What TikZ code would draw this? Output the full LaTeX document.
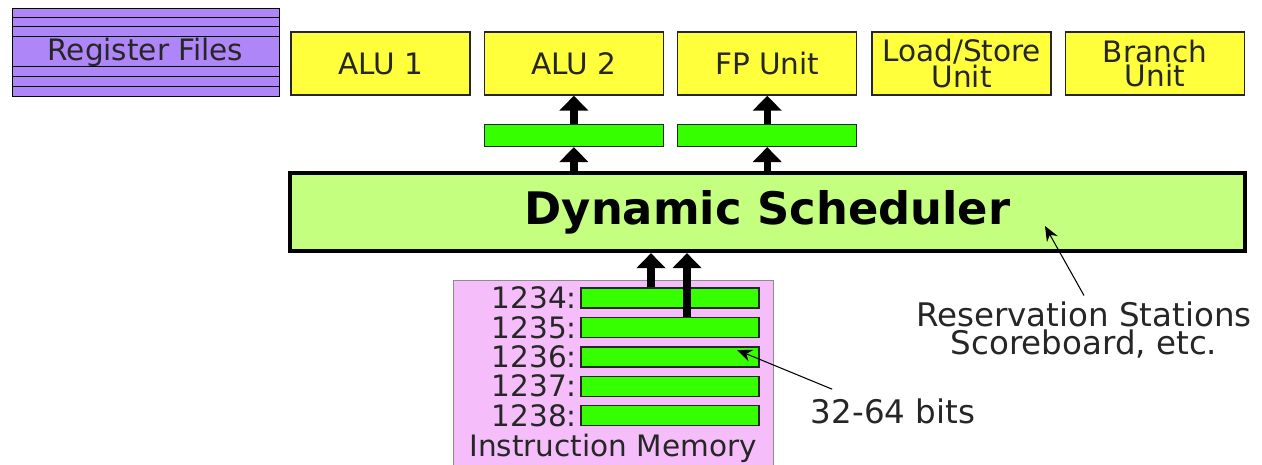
\documentclass[tikz,border=0pt]{standalone}
\usepackage{fontspec}
\setmainfont{DejaVu Sans}
\usepackage{xcolor}
\usepackage{tikz}
\usetikzlibrary{arrows.meta, positioning}
\definecolor{regpurple}{HTML}{AE86F7}
\definecolor{unityellow}{HTML}{FFFF3C}
\definecolor{bargreen}{HTML}{36FF00}
\definecolor{schedgreen}{HTML}{C4FF80}
\definecolor{mempink}{HTML}{F5BEFA}
\definecolor{textgray}{HTML}{262626}
\newcommand{\unitfont}{\fontsize{16.8}{14.2}\selectfont}
\newcommand{\notefont}{\fontsize{18.5}{16}\selectfont}
\tikzstyle{regfile} = [rectangle, minimum width=5.34cm, minimum height=1.76cm, text centered, draw=black, fill=regpurple, text=textgray, font=\unitfont]
\tikzstyle{unit} = [rectangle, minimum width=3.58cm, minimum height=1.26cm, text centered, align=center, draw=black!85, line width=0.8pt, fill=unityellow, text=textgray, font=\unitfont]
\tikzstyle{bar} = [rectangle, minimum width=3.58cm, minimum height=0.44cm, inner sep=0pt, draw=black!85, line width=0.8pt, fill=bargreen]
\tikzstyle{memrow} = [bar, minimum width=3.56cm, minimum height=0.40cm]
\tikzstyle{scheduler} = [rectangle, minimum width=19.1cm, minimum height=1.56cm, text centered, draw=black, line width=2.4pt, fill=schedgreen, font=\fontsize{25.5}{30}\selectfont\bfseries]
\tikzstyle{memory} = [rectangle, minimum width=6.4cm, minimum height=4cm, draw=black!45, fill=mempink]
\tikzstyle{bigarrow} = [line width=4.2pt, -{Triangle[width=16pt,length=8.5pt]}]
\tikzstyle{notearrow} = [line width=0.6pt, -{Stealth[width=7pt,length=8.5pt]}]

\begin{document}
\begin{tikzpicture}[x=0.02cm, y=-0.02cm]
   \useasboundingbox (0,0) rectangle (1262,464);
   % register file and functional units
   \node (regs) [regfile] at (145.5,52) {Register Files};
   \foreach \y in {17,26,36,66,76,86}
      \draw (12,\y) -- (279,\y);
   \node (alu1) [unit] at (380.5,63.5) {ALU 1};
   \node (alu2) [unit, right=0.26cm of alu1] {ALU 2};
   \node (fpu) [unit, right=0.26cm of alu2] {FP Unit};
   \node (lsu) [unit, right=0.28cm of fpu] {Load/Store\\Unit};
   \node (bru) [unit, right=0.26cm of lsu] {Branch\\Unit};
   \node (q1) [bar, below=0.56cm of alu2] {};
   \node (q2) [bar, below=0.56cm of fpu] {};
   \node (sched) [scheduler] at (767.5,212) {Dynamic Scheduler};
   \draw [bigarrow] (q1 |- sched.north) -- (q1.south);
   \draw [bigarrow] (q1.north) -- (alu2.south);
   \draw [bigarrow] (q2 |- sched.north) -- (q2.south);
   \draw [bigarrow] (q2.north) -- (fpu.south);
   % instruction memory
   \node (imem) [memory] at (613,380) {};
   \node (r1) [memrow] at (670,298) {};
   \foreach \i/\j in {2/1,3/2,4/3,5/4}
      \node (r\i) [memrow, below=0.16cm of r\j] {};
   \foreach \i/\n in {1/1234,2/1235,3/1236,4/1237,5/1238}
      \node (l\i) [left=0.06cm of r\i, inner sep=0pt, text=textgray, font=\unitfont] {\n:};
   \node (imemlabel) [text=textgray, font=\unitfont] at (613,448) {Instruction Memory};
   \coordinate (a1) at ([xshift=-0.38cm]r1.north);
   \coordinate (a2) at ([xshift=0.34cm]r2.north);
   \draw [bigarrow] (a1) -- (a1 |- sched.south);
   \draw [bigarrow] (a2) -- (a2 |- sched.south);
   % notes
   \node (bits) [text=textgray, font=\notefont] at (893,411) {32-64 bits};
   \coordinate (bitstip) at (737,350);
   \draw [notearrow] ([xshift=0.55cm,yshift=0.06cm]bits.north west) -- (bitstip);
   \node (resv) [text=textgray, font=\notefont, align=center] at (1084,330) {Reservation Stations\\Scoreboard, etc.};
   \coordinate (resvtip) at (1045,226);
   \draw [notearrow] (resv.north) -- (resvtip);
\end{tikzpicture}
\end{document}
